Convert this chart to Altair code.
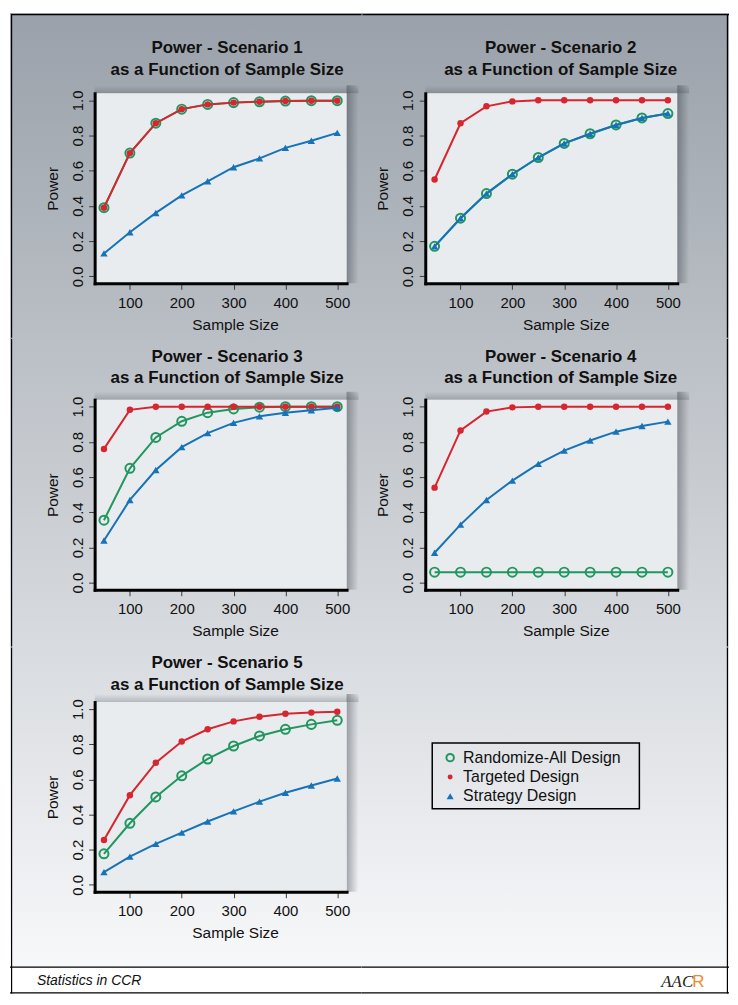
import altair as alt
import pandas as pd

# ---------------- data ----------------
N = [50, 100, 150, 200, 250, 300, 350, 400, 450, 500]

SERIES = ["Randomize-All Design", "Targeted Design", "Strategy Design"]

rand1 = [0.39, 0.70, 0.87, 0.95, 0.977, 0.987, 0.992, 0.996, 0.998, 0.998]
targ1 = [0.39, 0.70, 0.87, 0.95, 0.977, 0.987, 0.992, 0.996, 0.998, 0.998]
strat1 = [0.13, 0.25, 0.36, 0.46, 0.54, 0.62, 0.67, 0.73, 0.77, 0.815]

rand2 = [0.17, 0.33, 0.47, 0.58, 0.675, 0.755, 0.81, 0.86, 0.90, 0.925]
targ2 = [0.55, 0.87, 0.966, 0.994, 1.0, 1.0, 1.0, 1.0, 1.0, 1.0]
strat2 = [0.17, 0.33, 0.47, 0.58, 0.675, 0.755, 0.81, 0.86, 0.90, 0.925]

rand3 = [0.355, 0.65, 0.825, 0.917, 0.966, 0.987, 0.997, 1.0, 1.0, 1.0]
targ3 = [0.76, 0.982, 1.0, 1.0, 1.0, 1.0, 1.0, 1.0, 1.0, 1.0]
strat3 = [0.24, 0.47, 0.64, 0.77, 0.85, 0.908, 0.945, 0.965, 0.979, 0.994]

rand4 = [0.06, 0.06, 0.06, 0.06, 0.06, 0.06, 0.06, 0.06, 0.06, 0.06]
targ4 = [0.54, 0.865, 0.972, 0.996, 1.0, 1.0, 1.0, 1.0, 1.0, 1.0]
strat4 = [0.17, 0.33, 0.47, 0.58, 0.675, 0.75, 0.808, 0.858, 0.89, 0.915]

rand5 = [0.176, 0.35, 0.50, 0.62, 0.716, 0.79, 0.847, 0.885, 0.913, 0.936]
targ5 = [0.255, 0.51, 0.695, 0.815, 0.885, 0.93, 0.957, 0.974, 0.98, 0.985]
strat5 = [0.072, 0.16, 0.233, 0.297, 0.36, 0.418, 0.473, 0.524, 0.565, 0.605]

PANELS = [
    (rand1, targ1, strat1),
    (rand2, targ2, strat2),
    (rand3, targ3, strat3),
    (rand4, targ4, strat4),
    (rand5, targ5, strat5),
]
TITLES = [["Power - Scenario %d" % (i + 1), "as a Function of Sample Size"] for i in range(5)]
X_TICKS = [100, 200, 300, 400, 500]
Y_TICKS = [0.0, 0.2, 0.4, 0.6, 0.8, 1.0]
X_DOMAIN = [32, 518]
Y_DOMAIN = [-0.04, 1.04]
FOOTER_TEXT = "Statistics in CCR"

# ---------------- styling / layout ----------------
FONT = "Liberation Sans"
GREEN = "#229660"
RED = "#d6262f"
BLUE = "#1673b7"
BOX_FILL = "#e9ecef"
TXT = "#111111"

COLW = [353, 367]
ROWH = [326, 310, 348]
ROW_TOP = [10, 336, 646]
GRAD_H = [326, 310, 321]          # height of the gradient area in each row
XR = [[84, 337], [63, 316]]
YR = [[270.4, 79.6], [252.1, 61.2], [245.4, 54.9]]
TITLE_BASE = [39, 23, 21]
TITLE_X = [217, 199]
XTITLE_X = [225, 204]

TOP_RGB = (154, 161, 170)
BOT_RGB = (247, 248, 250)


def bgc(py):
    t = max(0.0, min(1.0, (py - 10) / 957.0))
    return "#%02x%02x%02x" % tuple(int(round(a + (b - a) * t)) for a, b in zip(TOP_RGB, BOT_RGB))


EMPTY = alt.Data(values=[{}])


def vrect(x0, x1, y0, y1, **kw):
    return alt.Chart(EMPTY).mark_rect(**kw).encode(
        x=alt.value(x0), x2=alt.value(x1), y=alt.value(y0), y2=alt.value(y1))


def deco_layers(row, col):
    """gradient background, frame lines and (bottom row) the footer strip."""
    w, h = COLW[col], ROWH[row]
    gh = GRAD_H[row]
    top = ROW_TOP[row]
    grad = {"gradient": "linear", "x1": 0, "y1": 0, "x2": 0, "y2": 1,
            "stops": [{"offset": 0, "color": bgc(top - 1)}, {"offset": 1, "color": bgc(top + gh + 1)}]}
    out = [vrect(-1, w + 1, -1, gh + 1, fill=grad)]
    if row == 2:
        out.append(vrect(-1, w + 1, gh, h, fill="white"))
        out.append(vrect(-1, w + 1, gh - 0.6, gh + 0.6, fill="black"))
        out.append(vrect(-1, w + 1, h - 1.6, h - 0.4, fill="black"))
    if row == 0:
        out.append(vrect(0, w + 1, 0, 1.2, fill="black"))
    if col == 0:
        out.append(vrect(0, 1.2, 0, h - 0.4, fill="black"))
    else:
        out.append(vrect(w - 1.2, w, 0, h - 0.4, fill="black"))
    return out


def footer_layers(col):
    if col == 0:
        return [alt.Chart(EMPTY).mark_text(
            text=FOOTER_TEXT, font=FONT, fontSize=14, fontStyle="italic",
            align="left", baseline="alphabetic", color=TXT).encode(
            x=alt.value(26), y=alt.value(339))]
    return [
        alt.Chart(EMPTY).mark_text(text="AAC", font="Liberation Serif", fontSize=17, fontStyle="italic",
                                   align="left", baseline="alphabetic", color="#222222").encode(
            x=alt.value(300), y=alt.value(341)),
        alt.Chart(EMPTY).mark_text(text="R", font=FONT, fontSize=17,
                                   align="left", baseline="alphabetic", color="#ef8a2a").encode(
            x=alt.value(331), y=alt.value(341)),
    ]


def make_panel(k, row, col):
    w, h = COLW[col], ROWH[row]
    xs = alt.Scale(domain=X_DOMAIN, range=XR[col], nice=False, zero=False)
    ys = alt.Scale(domain=Y_DOMAIN, range=YR[row], nice=False, zero=False)
    xax = alt.Axis(
        title="Sample Size", values=X_TICKS, format="d", orient="bottom", offset=YR[row][0] - h,
        grid=False, domainColor="black", domainWidth=3, domainCap="square",
        tickColor="#3a3a3a", tickWidth=1, tickSize=6, zindex=1,
        labelFont=FONT, labelFontSize=15, labelColor=TXT, labelPadding=6,
        labelFlush=False, labelOverlap=False, labelBaseline="top",
        titleFont=FONT, titleFontSize=15.5, titleFontWeight="normal", titleColor=TXT,
        titleX=XTITLE_X[col], titleY=46, titleAlign="center", titleBaseline="alphabetic",
    )
    ymid = (YR[row][0] + YR[row][1]) / 2
    yax = alt.Axis(
        title="Power", values=Y_TICKS, format=".1f", orient="left", offset=-XR[col][0],
        grid=False, domainColor="black", domainWidth=3, domainCap="square",
        tickColor="#3a3a3a", tickWidth=1, tickSize=6, zindex=1,
        labelFont=FONT, labelFontSize=15, labelColor=TXT, labelPadding=6.5,
        labelAngle=270, labelAlign="center", labelBaseline="alphabetic",
        labelFlush=False, labelOverlap=False,
        titleFont=FONT, titleFontSize=15.5, titleFontWeight="normal", titleColor=TXT,
        titleAngle=270, titleX=-37.5, titleY=ymid, titleAlign="center", titleBaseline="alphabetic",
    )

    def X(f):
        return alt.X(f, type="quantitative", scale=xs, axis=xax)

    def Y(f):
        return alt.Y(f, type="quantitative", scale=ys, axis=yax)

    layers = deco_layers(row, col)

    grad_h = {"gradient": "linear", "x1": 0, "y1": 0, "x2": 1, "y2": 0,
              "stops": [{"offset": 0, "color": "rgba(40,46,54,0.38)"},
                        {"offset": 1, "color": "rgba(40,46,54,0)"}]}
    grad_v = {"gradient": "linear", "x1": 0, "y1": 0, "x2": 0, "y2": 1,
              "stops": [{"offset": 0, "color": "rgba(40,46,54,0)"},
                        {"offset": 1, "color": "rgba(40,46,54,0.22)"}]}
    sh_r = pd.DataFrame({"n": [X_DOMAIN[1]], "n2": [X_DOMAIN[1]],
                         "power": [Y_DOMAIN[0]], "power2": [Y_DOMAIN[1]]})
    sh_t = pd.DataFrame({"n": [X_DOMAIN[0]], "n2": [X_DOMAIN[1]],
                         "power": [Y_DOMAIN[1]], "power2": [Y_DOMAIN[1]]})
    box = pd.DataFrame({"n": [X_DOMAIN[0]], "n2": [X_DOMAIN[1]],
                        "power": [Y_DOMAIN[0]], "power2": [Y_DOMAIN[1]]})
    layers.append(alt.Chart(sh_r).mark_rect(fill=grad_h, x2Offset=12, y2Offset=-8).encode(
        x=X("n"), x2="n2", y=Y("power"), y2="power2"))
    layers.append(alt.Chart(sh_t).mark_rect(fill=grad_v, x2Offset=12, y2Offset=-8).encode(
        x=X("n"), x2="n2", y=Y("power"), y2="power2"))
    layers.append(alt.Chart(box).mark_rect(fill=BOX_FILL, opacity=1).encode(
        x=X("n"), x2="n2", y=Y("power"), y2="power2"))

    rand, targ, strat = PANELS[k]
    d_r = pd.DataFrame({"n": N, "power": rand})
    d_t = pd.DataFrame({"n": N, "power": targ})
    d_s = pd.DataFrame({"n": N, "power": strat})

    layers.append(alt.Chart(d_r).mark_line(color=GREEN, strokeWidth=2).encode(x=X("n"), y=Y("power")))
    layers.append(alt.Chart(d_r).mark_point(shape="circle", filled=False, color=GREEN, strokeWidth=2,
                                           size=82, opacity=1).encode(x=X("n"), y=Y("power")))
    layers.append(alt.Chart(d_t).mark_line(color=RED, strokeWidth=2).encode(x=X("n"), y=Y("power")))
    layers.append(alt.Chart(d_t).mark_point(shape="circle", filled=True, color=RED, size=42,
                                           opacity=1).encode(x=X("n"), y=Y("power")))
    layers.append(alt.Chart(d_s).mark_line(color=BLUE, strokeWidth=2).encode(x=X("n"), y=Y("power")))
    layers.append(alt.Chart(d_s).mark_point(shape="triangle-up", filled=True, color=BLUE, size=55,
                                           opacity=1).encode(x=X("n"), y=Y("power")))

    layers.append(alt.Chart(EMPTY).mark_text(
        text=TITLES[k], lineHeight=22, font=FONT, fontSize=17, fontWeight="bold",
        align="center", baseline="alphabetic", color=TXT).encode(
        x=alt.value(TITLE_X[col]), y=alt.value(TITLE_BASE[row])))
    if row == 2:
        layers += footer_layers(col)
    return alt.layer(*layers).properties(width=w, height=h)


def make_legend(row, col):
    w, h = COLW[col], ROWH[row]
    ly = alt.Y("series:N", scale=alt.Scale(type="point", domain=SERIES, range=[110.7, 149.5], padding=0),
               axis=None)
    layers = deco_layers(row, col)
    layers.append(alt.Chart(EMPTY).mark_rect(fillOpacity=0, stroke="black", strokeWidth=1.5).encode(
        x=alt.value(70), x2=alt.value(278), y=alt.value(96), y2=alt.value(162)))
    layers.append(alt.Chart(pd.DataFrame({"series": [SERIES[0]]})).mark_point(
        shape="circle", filled=False, color=GREEN, strokeWidth=2, size=56, opacity=1).encode(
        x=alt.value(88), y=ly))
    layers.append(alt.Chart(pd.DataFrame({"series": [SERIES[1]]})).mark_point(
        shape="circle", filled=True, color=RED, size=25, opacity=1).encode(x=alt.value(88), y=ly))
    layers.append(alt.Chart(pd.DataFrame({"series": [SERIES[2]]})).mark_point(
        shape="triangle-up", filled=True, color=BLUE, size=50, opacity=1).encode(x=alt.value(88), y=ly))
    layers.append(alt.Chart(pd.DataFrame({"series": SERIES})).mark_text(
        align="left", baseline="middle", font=FONT, fontSize=16, color=TXT).encode(
        x=alt.value(101), y=ly, text="series:N"))
    layers += footer_layers(col)
    return alt.layer(*layers).properties(width=w, height=h)


cells = [
    make_panel(0, 0, 0), make_panel(1, 0, 1),
    make_panel(2, 1, 0), make_panel(3, 1, 1),
    make_panel(4, 2, 0), make_legend(2, 1),
]

chart = alt.concat(*cells, columns=2, spacing=0, bounds="flush").properties(
    padding={"left": 1, "top": 2, "right": 0, "bottom": 0},
    background="white",
).configure_view(stroke="transparent")

chart.save("out.html", embed_options={"renderer": "svg", "actions": False})
